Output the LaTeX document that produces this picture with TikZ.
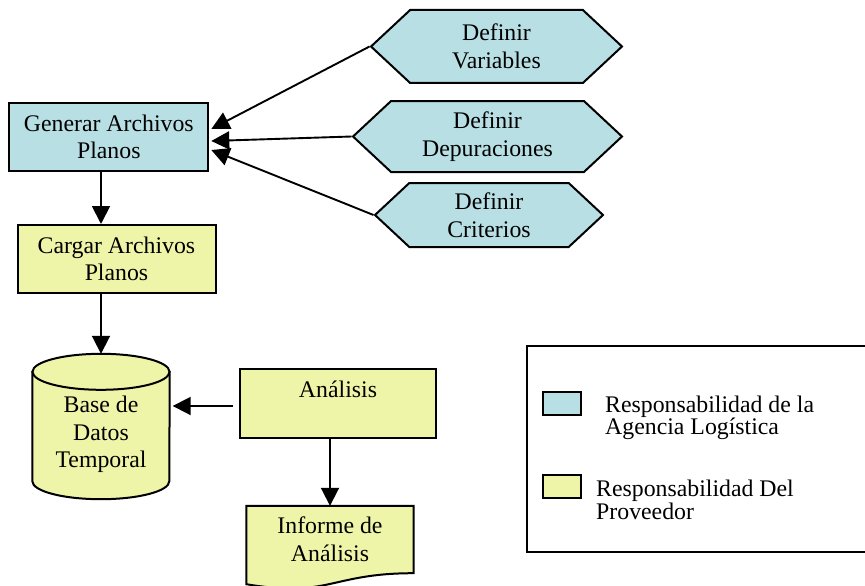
\documentclass[tikz,border=0pt]{standalone}
\usepackage{fontspec}
\setmainfont{Liberation Serif}
\usepackage{tikz}
\usetikzlibrary{calc,arrows.meta,shapes.symbols,backgrounds}
\definecolor{agencia}{RGB}{184,223,228}
\definecolor{proveedor}{RGB}{239,245,168}
\tikzset{
every node/.style={font=\fontsize{23.8}{27.6}\selectfont, align=center, inner sep=0pt},
caja/.style={line width=2pt, rectangle, draw=black},
hexa/.style={line width=2pt, signal, signal to=west and east, signal pointer angle=86, draw=black, fill=agencia},
flecha/.style={line width=1.9pt, draw=black, -{Triangle[length=18pt,width=18pt]}},
}
\tikzstyle{leyenda} = [font=\fontsize{23.8}{22.5}\selectfont, align=left, anchor=west]

\begin{document}
\begin{tikzpicture}[x=1pt,y=-1pt]
\useasboundingbox (0,0) rectangle (865,586);
\node[caja, fill=agencia, minimum width=199pt, minimum height=68pt] (gen) at (108.8,137) {Generar Archivos\\Planos};
\node[caja, fill=proveedor, minimum width=198pt, minimum height=68pt] (carg) at (116.5,259) {Cargar Archivos\\Planos};
\node[minimum width=137pt, minimum height=145pt] (bd) at (101,426.5) {};
\draw[line width=2pt, fill=proveedor] ($(bd.north west)+(0,18)$) -- ($(bd.south west)+(0,-18)$)
  arc[start angle=180, end angle=0, x radius=68.5, y radius=18] -- ($(bd.north east)+(0,18)$) -- cycle;
\draw[line width=2pt, fill=proveedor] ($(bd.north)+(0,18)$) ellipse [x radius=68.5, y radius=18];
\node (bdt) at (101,434.5) {Base de\\Datos\\Temporal};
\node[caja, fill=proveedor, minimum width=196pt, minimum height=69pt] (ana) at (338,403.5) {\raisebox{-8pt}{Análisis}\\\strut};
\node[minimum width=167pt, minimum height=67pt] (inf) at (330,539.5) {Informe de\\Análisis};
\begin{scope}[on background layer]
\draw[line width=2pt, fill=proveedor] (inf.north west) -- (inf.north east) -- (inf.south east)
  .. controls (inf.south) and ($(inf.south)+(0,25)$) .. ($(inf.south west)+(0,11)$) -- cycle;
\end{scope}

\node[hexa, minimum width=251pt, minimum height=73pt] (var) at (496.5,46.5) {Definir\\Variables};
\node[hexa, minimum width=269pt, minimum height=71pt] (dep) at (487.5,136.5) {Definir\\Depuraciones};
\node[hexa, minimum width=228pt, minimum height=64pt] (crit) at (489,215) {Definir\\Criterios};

\draw[flecha] (var.west) -- ($(gen.east)+(2,-8)$);
\draw[flecha] (dep.west) -- ($(gen.east)+(2,4)$);
\draw[flecha] (crit.west) -- ($(gen.east)+(2,13)$);
\draw[flecha] (gen.south -| bd) -- (carg.north -| bd);
\draw[flecha] (carg.south -| bd) -- (bd.north);
\draw[flecha] ($(ana.west)+(-6,2.5)$) -- ($(bd.east |- ana.west)+(3,2.5)$);
\draw[flecha] (ana.south -| inf) -- (inf.north);

\node[line width=2pt, draw=black, minimum width=346pt, minimum height=206pt] (leg) at (700,449) {};
\node[caja, fill=agencia, minimum width=38pt, minimum height=23pt] (lag) at (562,403.5) {};
\node[caja, fill=proveedor, minimum width=38pt, minimum height=23pt] (lpr) at (562,486.5) {};
\node[leyenda] (tag) at (605,418) {Responsabilidad de la\\Agencia Logística};
\node[leyenda] (tpr) at (596,500) {Responsabilidad Del\\Proveedor};
\end{tikzpicture}
\end{document}
